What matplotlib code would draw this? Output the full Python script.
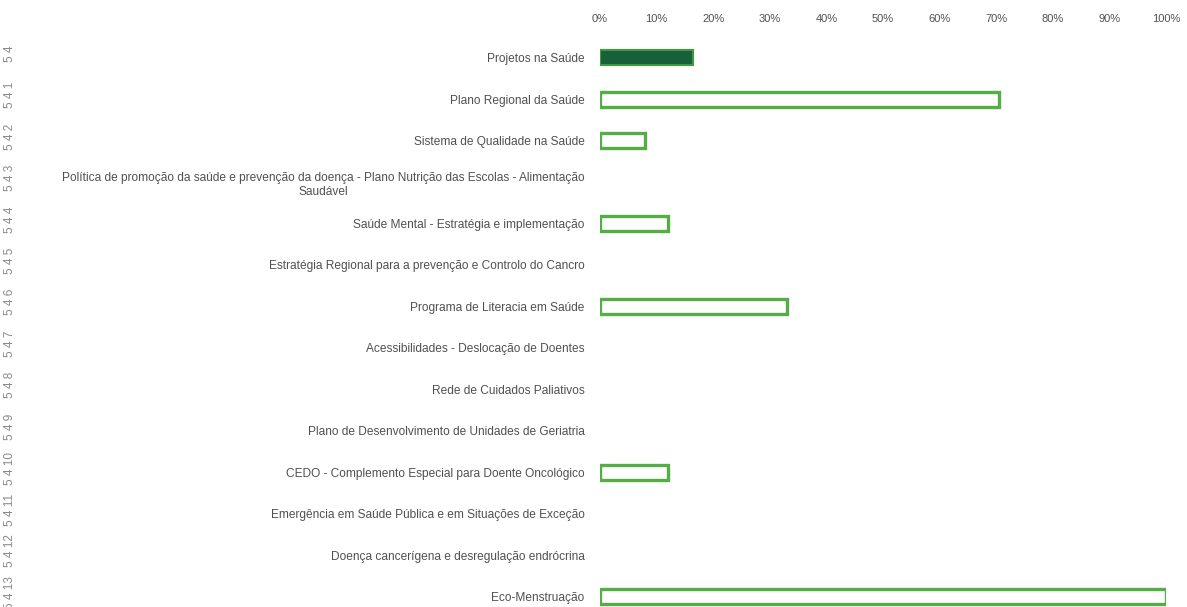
import numpy as np
import matplotlib
matplotlib.use("Agg")
import matplotlib.pyplot as plt
import matplotlib.transforms as mtransforms

# Data ########################################################################
codes = ['5 4', '5 4 1', '5 4 2', '5 4 3', '5 4 4', '5 4 5', '5 4 6',
         '5 4 7', '5 4 8', '5 4 9', '5 4 10', '5 4 11', '5 4 12', '5 4 13']
labels = ['Projetos na Saúde',
          'Plano Regional da Saúde',
          'Sistema de Qualidade na Saúde',
          'Política de promoção da saúde e prevenção da doença - Plano Nutrição das Escolas - Alimentação\nSaudável',
          'Saúde Mental - Estratégia e implementação',
          'Estratégia Regional para a prevenção e Controlo do Cancro',
          'Programa de Literacia em Saúde',
          'Acessibilidades - Deslocação de Doentes',
          'Rede de Cuidados Paliativos',
          'Plano de Desenvolvimento de Unidades de Geriatria',
          'CEDO - Complemento Especial para Doente Oncológico',
          'Emergência em Saúde Pública e em Situações de Exceção',
          'Doença cancerígena e desregulação endrócrina',
          'Eco-Menstruação']
values = [16.5, 70.5, 8, 0, 12, 0, 33, 0, 0, 0, 12, 0, 0, 100]
xticks = [0, 10, 20, 30, 40, 50, 60, 70, 80, 90, 100]
#############################################################################

plt.rcParams['font.family'] = ['Liberation Sans', 'DejaVu Sans']
txt_col = '#505050'

fig = plt.figure(figsize=(11.87, 6.07), dpi=100)
ax = fig.add_axes([600 / 1187, 0, 566 / 1187, (607 - 37) / 607])

y = np.arange(len(labels))
for i, v in enumerate(values):
    if v == 0:
        continue
    if i == 0:
        ax.barh(i, v, height=0.36, color='#16603a', edgecolor='#3f9a3f', linewidth=1.5)
    else:
        ax.barh(i, v, height=0.36, color='white', edgecolor='#55ad45', linewidth=2.4)

ax.set_xlim(0, 100)
ax.set_ylim(13.25, -0.5)
ax.xaxis.tick_top()
ax.set_xticks(xticks)
ax.set_xticklabels([f'{t}%' for t in xticks], fontsize=8, color=txt_col)
ax.set_yticks(y)
ax.set_yticklabels(labels, fontsize=8.6, color=txt_col, multialignment='center',
                   linespacing=1.3)
ax.tick_params(axis='both', length=0)
ax.tick_params(axis='y', pad=11)
ax.tick_params(axis='x', pad=9.5)
for s in ax.spines.values():
    s.set_visible(False)

trans = mtransforms.blended_transform_factory(fig.transFigure, ax.transData)
for i, c in enumerate(codes):
    ax.text(10 / 1187, i - 0.1, c, transform=trans, rotation=90, ha='center', va='center',
            fontsize=8.5, color='#8a8a8a', clip_on=False)

fig.savefig('out.png', dpi=100, facecolor='white')
